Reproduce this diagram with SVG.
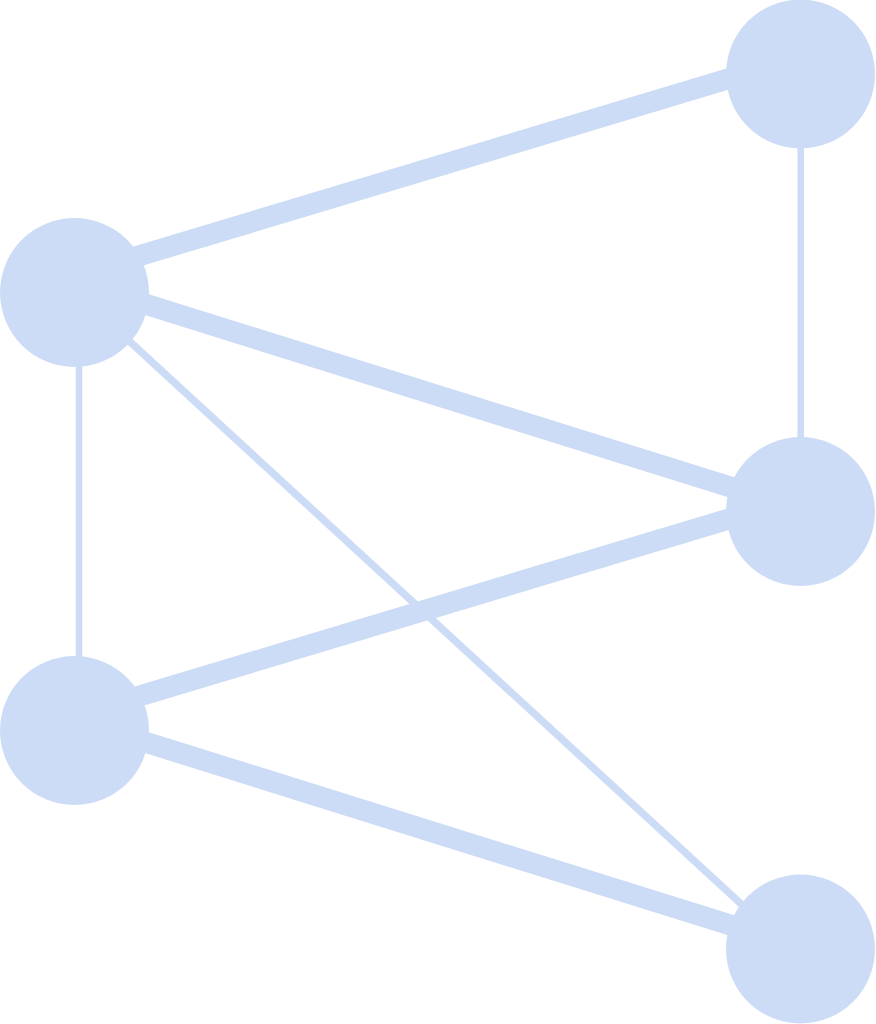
<svg xmlns="http://www.w3.org/2000/svg" width="876" height="1024" viewBox="0 0 876 1024">
<style>
.edge{stroke:#cddcf6;fill:none;stroke-linecap:butt}
.thick{stroke-width:21}
.thin{stroke-width:6.5}
.diag{stroke-width:7.5}
.node{fill:#cddcf6}
</style>
<rect width="876" height="1024" fill="#ffffff"/>
<g id="connectors">
<line class="edge thick" x1="74.5" y1="275.2" x2="800.5" y2="57.2"/>
<line class="edge thick" x1="74.5" y1="282" x2="800.5" y2="509"/>
<line class="edge thick" x1="74.5" y1="715.5" x2="800.5" y2="497.5"/>
<line class="edge thick" x1="74.5" y1="720" x2="800.5" y2="947"/>
<line class="edge thin" x1="800.7" y1="74" x2="800.7" y2="511.5"/>
<line class="edge thin" x1="79" y1="292.5" x2="79" y2="730.5"/>
<line class="edge diag" x1="74.5" y1="290.7" x2="800.5" y2="958.6"/>
</g>
<g id="node-a"><circle class="node" cx="800.5" cy="74" r="74.5"/></g>
<g id="node-b"><circle class="node" cx="74.5" cy="292.5" r="74.5"/></g>
<g id="node-c"><circle class="node" cx="800.5" cy="511.5" r="74.5"/></g>
<g id="node-d"><circle class="node" cx="74.5" cy="730.5" r="74.5"/></g>
<g id="node-e"><circle class="node" cx="800.5" cy="949" r="74.5"/></g>
</svg>
